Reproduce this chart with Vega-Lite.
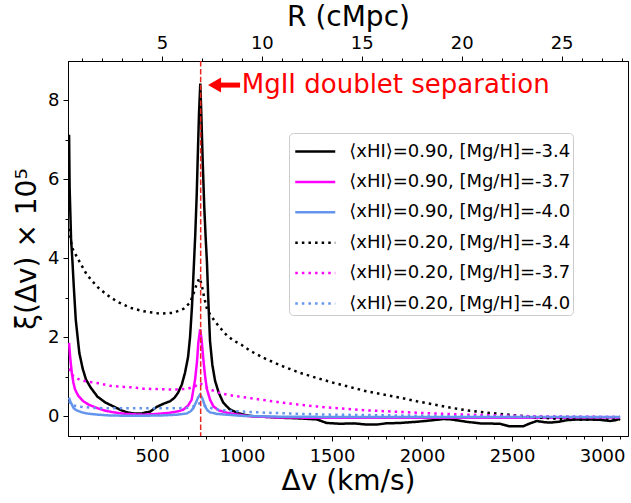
{
  "$schema": "https://vega.github.io/schema/vega-lite/v6.json",
  "width": 560,
  "height": 375,
  "autosize": {"type": "none"},
  "padding": {"left": 68, "top": 61, "right": 3, "bottom": 67},
  "config": {
    "font": "DejaVu Sans",
    "view": {"stroke": "black", "strokeWidth": 1},
    "axis": {
      "domainColor": "black",
      "tickColor": "black",
      "labelColor": "black",
      "titleColor": "black",
      "labelFont": "DejaVu Sans",
      "titleFont": "DejaVu Sans",
      "labelFontSize": 18,
      "titleFontSize": 28,
      "titleFontWeight": "normal",
      "grid": false,
      "tickWidth": 1,
      "domainWidth": 1,
      "labelFlush": false
    }
  },
  "datasets": {
    "curves": [
      {"s": "⟨xHI⟩=0.90, [Mg/H]=-3.4", "dv": 39, "xi": 7.13},
      {"s": "⟨xHI⟩=0.90, [Mg/H]=-3.4", "dv": 42, "xi": 5.8},
      {"s": "⟨xHI⟩=0.90, [Mg/H]=-3.4", "dv": 50, "xi": 4.5},
      {"s": "⟨xHI⟩=0.90, [Mg/H]=-3.4", "dv": 58, "xi": 3.9},
      {"s": "⟨xHI⟩=0.90, [Mg/H]=-3.4", "dv": 65, "xi": 3.3},
      {"s": "⟨xHI⟩=0.90, [Mg/H]=-3.4", "dv": 76, "xi": 2.45},
      {"s": "⟨xHI⟩=0.90, [Mg/H]=-3.4", "dv": 96, "xi": 1.6},
      {"s": "⟨xHI⟩=0.90, [Mg/H]=-3.4", "dv": 115, "xi": 1.2},
      {"s": "⟨xHI⟩=0.90, [Mg/H]=-3.4", "dv": 133, "xi": 0.93},
      {"s": "⟨xHI⟩=0.90, [Mg/H]=-3.4", "dv": 160, "xi": 0.72},
      {"s": "⟨xHI⟩=0.90, [Mg/H]=-3.4", "dv": 196, "xi": 0.5},
      {"s": "⟨xHI⟩=0.90, [Mg/H]=-3.4", "dv": 240, "xi": 0.35},
      {"s": "⟨xHI⟩=0.90, [Mg/H]=-3.4", "dv": 285, "xi": 0.25},
      {"s": "⟨xHI⟩=0.90, [Mg/H]=-3.4", "dv": 330, "xi": 0.15},
      {"s": "⟨xHI⟩=0.90, [Mg/H]=-3.4", "dv": 360, "xi": 0.1},
      {"s": "⟨xHI⟩=0.90, [Mg/H]=-3.4", "dv": 400, "xi": 0.07},
      {"s": "⟨xHI⟩=0.90, [Mg/H]=-3.4", "dv": 440, "xi": 0.07},
      {"s": "⟨xHI⟩=0.90, [Mg/H]=-3.4", "dv": 490, "xi": 0.12},
      {"s": "⟨xHI⟩=0.90, [Mg/H]=-3.4", "dv": 527, "xi": 0.24},
      {"s": "⟨xHI⟩=0.90, [Mg/H]=-3.4", "dv": 565, "xi": 0.32},
      {"s": "⟨xHI⟩=0.90, [Mg/H]=-3.4", "dv": 600, "xi": 0.38},
      {"s": "⟨xHI⟩=0.90, [Mg/H]=-3.4", "dv": 625, "xi": 0.47},
      {"s": "⟨xHI⟩=0.90, [Mg/H]=-3.4", "dv": 645, "xi": 0.6},
      {"s": "⟨xHI⟩=0.90, [Mg/H]=-3.4", "dv": 665, "xi": 0.8},
      {"s": "⟨xHI⟩=0.90, [Mg/H]=-3.4", "dv": 683, "xi": 1.1},
      {"s": "⟨xHI⟩=0.90, [Mg/H]=-3.4", "dv": 700, "xi": 1.5},
      {"s": "⟨xHI⟩=0.90, [Mg/H]=-3.4", "dv": 711, "xi": 2.0},
      {"s": "⟨xHI⟩=0.90, [Mg/H]=-3.4", "dv": 722, "xi": 2.8},
      {"s": "⟨xHI⟩=0.90, [Mg/H]=-3.4", "dv": 730, "xi": 3.6},
      {"s": "⟨xHI⟩=0.90, [Mg/H]=-3.4", "dv": 740, "xi": 4.6},
      {"s": "⟨xHI⟩=0.90, [Mg/H]=-3.4", "dv": 748, "xi": 5.6},
      {"s": "⟨xHI⟩=0.90, [Mg/H]=-3.4", "dv": 754, "xi": 6.6},
      {"s": "⟨xHI⟩=0.90, [Mg/H]=-3.4", "dv": 761, "xi": 7.7},
      {"s": "⟨xHI⟩=0.90, [Mg/H]=-3.4", "dv": 768, "xi": 8.43},
      {"s": "⟨xHI⟩=0.90, [Mg/H]=-3.4", "dv": 774, "xi": 7.6},
      {"s": "⟨xHI⟩=0.90, [Mg/H]=-3.4", "dv": 781, "xi": 6.5},
      {"s": "⟨xHI⟩=0.90, [Mg/H]=-3.4", "dv": 790, "xi": 5.3},
      {"s": "⟨xHI⟩=0.90, [Mg/H]=-3.4", "dv": 798, "xi": 4.5},
      {"s": "⟨xHI⟩=0.90, [Mg/H]=-3.4", "dv": 805, "xi": 3.9},
      {"s": "⟨xHI⟩=0.90, [Mg/H]=-3.4", "dv": 812, "xi": 3.0},
      {"s": "⟨xHI⟩=0.90, [Mg/H]=-3.4", "dv": 822, "xi": 1.9},
      {"s": "⟨xHI⟩=0.90, [Mg/H]=-3.4", "dv": 835, "xi": 1.3},
      {"s": "⟨xHI⟩=0.90, [Mg/H]=-3.4", "dv": 850, "xi": 0.9},
      {"s": "⟨xHI⟩=0.90, [Mg/H]=-3.4", "dv": 870, "xi": 0.6},
      {"s": "⟨xHI⟩=0.90, [Mg/H]=-3.4", "dv": 895, "xi": 0.35},
      {"s": "⟨xHI⟩=0.90, [Mg/H]=-3.4", "dv": 930, "xi": 0.18},
      {"s": "⟨xHI⟩=0.90, [Mg/H]=-3.4", "dv": 970, "xi": 0.09},
      {"s": "⟨xHI⟩=0.90, [Mg/H]=-3.4", "dv": 1020, "xi": 0.03},
      {"s": "⟨xHI⟩=0.90, [Mg/H]=-3.4", "dv": 1061, "xi": 0.0},
      {"s": "⟨xHI⟩=0.90, [Mg/H]=-3.4", "dv": 1150, "xi": -0.02},
      {"s": "⟨xHI⟩=0.90, [Mg/H]=-3.4", "dv": 1228, "xi": -0.04},
      {"s": "⟨xHI⟩=0.90, [Mg/H]=-3.4", "dv": 1300, "xi": -0.05},
      {"s": "⟨xHI⟩=0.90, [Mg/H]=-3.4", "dv": 1415, "xi": -0.08},
      {"s": "⟨xHI⟩=0.90, [Mg/H]=-3.4", "dv": 1470, "xi": -0.17},
      {"s": "⟨xHI⟩=0.90, [Mg/H]=-3.4", "dv": 1544, "xi": -0.19},
      {"s": "⟨xHI⟩=0.90, [Mg/H]=-3.4", "dv": 1620, "xi": -0.18},
      {"s": "⟨xHI⟩=0.90, [Mg/H]=-3.4", "dv": 1693, "xi": -0.21},
      {"s": "⟨xHI⟩=0.90, [Mg/H]=-3.4", "dv": 1748, "xi": -0.21},
      {"s": "⟨xHI⟩=0.90, [Mg/H]=-3.4", "dv": 1800, "xi": -0.18},
      {"s": "⟨xHI⟩=0.90, [Mg/H]=-3.4", "dv": 1878, "xi": -0.17},
      {"s": "⟨xHI⟩=0.90, [Mg/H]=-3.4", "dv": 1970, "xi": -0.14},
      {"s": "⟨xHI⟩=0.90, [Mg/H]=-3.4", "dv": 2061, "xi": -0.1},
      {"s": "⟨xHI⟩=0.90, [Mg/H]=-3.4", "dv": 2118, "xi": -0.07},
      {"s": "⟨xHI⟩=0.90, [Mg/H]=-3.4", "dv": 2160, "xi": -0.08},
      {"s": "⟨xHI⟩=0.90, [Mg/H]=-3.4", "dv": 2248, "xi": -0.14},
      {"s": "⟨xHI⟩=0.90, [Mg/H]=-3.4", "dv": 2322, "xi": -0.18},
      {"s": "⟨xHI⟩=0.90, [Mg/H]=-3.4", "dv": 2433, "xi": -0.19},
      {"s": "⟨xHI⟩=0.90, [Mg/H]=-3.4", "dv": 2480, "xi": -0.25},
      {"s": "⟨xHI⟩=0.90, [Mg/H]=-3.4", "dv": 2563, "xi": -0.25},
      {"s": "⟨xHI⟩=0.90, [Mg/H]=-3.4", "dv": 2600, "xi": -0.18},
      {"s": "⟨xHI⟩=0.90, [Mg/H]=-3.4", "dv": 2637, "xi": -0.12},
      {"s": "⟨xHI⟩=0.90, [Mg/H]=-3.4", "dv": 2680, "xi": -0.15},
      {"s": "⟨xHI⟩=0.90, [Mg/H]=-3.4", "dv": 2711, "xi": -0.16},
      {"s": "⟨xHI⟩=0.90, [Mg/H]=-3.4", "dv": 2760, "xi": -0.14},
      {"s": "⟨xHI⟩=0.90, [Mg/H]=-3.4", "dv": 2804, "xi": -0.1},
      {"s": "⟨xHI⟩=0.90, [Mg/H]=-3.4", "dv": 2860, "xi": -0.08},
      {"s": "⟨xHI⟩=0.90, [Mg/H]=-3.4", "dv": 2933, "xi": -0.08},
      {"s": "⟨xHI⟩=0.90, [Mg/H]=-3.4", "dv": 2990, "xi": -0.09},
      {"s": "⟨xHI⟩=0.90, [Mg/H]=-3.4", "dv": 3044, "xi": -0.12},
      {"s": "⟨xHI⟩=0.90, [Mg/H]=-3.4", "dv": 3075, "xi": -0.1},
      {"s": "⟨xHI⟩=0.90, [Mg/H]=-3.4", "dv": 3100, "xi": -0.06},

      {"s": "⟨xHI⟩=0.90, [Mg/H]=-3.7", "dv": 39, "xi": 1.86},
      {"s": "⟨xHI⟩=0.90, [Mg/H]=-3.7", "dv": 45, "xi": 1.5},
      {"s": "⟨xHI⟩=0.90, [Mg/H]=-3.7", "dv": 54, "xi": 1.1},
      {"s": "⟨xHI⟩=0.90, [Mg/H]=-3.7", "dv": 63, "xi": 0.85},
      {"s": "⟨xHI⟩=0.90, [Mg/H]=-3.7", "dv": 72, "xi": 0.68},
      {"s": "⟨xHI⟩=0.90, [Mg/H]=-3.7", "dv": 90, "xi": 0.52},
      {"s": "⟨xHI⟩=0.90, [Mg/H]=-3.7", "dv": 118, "xi": 0.38},
      {"s": "⟨xHI⟩=0.90, [Mg/H]=-3.7", "dv": 150, "xi": 0.29},
      {"s": "⟨xHI⟩=0.90, [Mg/H]=-3.7", "dv": 193, "xi": 0.21},
      {"s": "⟨xHI⟩=0.90, [Mg/H]=-3.7", "dv": 240, "xi": 0.14},
      {"s": "⟨xHI⟩=0.90, [Mg/H]=-3.7", "dv": 285, "xi": 0.1},
      {"s": "⟨xHI⟩=0.90, [Mg/H]=-3.7", "dv": 350, "xi": 0.06},
      {"s": "⟨xHI⟩=0.90, [Mg/H]=-3.7", "dv": 452, "xi": 0.04},
      {"s": "⟨xHI⟩=0.90, [Mg/H]=-3.7", "dv": 530, "xi": 0.06},
      {"s": "⟨xHI⟩=0.90, [Mg/H]=-3.7", "dv": 600, "xi": 0.09},
      {"s": "⟨xHI⟩=0.90, [Mg/H]=-3.7", "dv": 650, "xi": 0.13},
      {"s": "⟨xHI⟩=0.90, [Mg/H]=-3.7", "dv": 674, "xi": 0.17},
      {"s": "⟨xHI⟩=0.90, [Mg/H]=-3.7", "dv": 700, "xi": 0.27},
      {"s": "⟨xHI⟩=0.90, [Mg/H]=-3.7", "dv": 720, "xi": 0.42},
      {"s": "⟨xHI⟩=0.90, [Mg/H]=-3.7", "dv": 739, "xi": 0.93},
      {"s": "⟨xHI⟩=0.90, [Mg/H]=-3.7", "dv": 750, "xi": 1.4},
      {"s": "⟨xHI⟩=0.90, [Mg/H]=-3.7", "dv": 757, "xi": 1.86},
      {"s": "⟨xHI⟩=0.90, [Mg/H]=-3.7", "dv": 767, "xi": 2.2},
      {"s": "⟨xHI⟩=0.90, [Mg/H]=-3.7", "dv": 775, "xi": 1.95},
      {"s": "⟨xHI⟩=0.90, [Mg/H]=-3.7", "dv": 785, "xi": 1.44},
      {"s": "⟨xHI⟩=0.90, [Mg/H]=-3.7", "dv": 795, "xi": 1.0},
      {"s": "⟨xHI⟩=0.90, [Mg/H]=-3.7", "dv": 804, "xi": 0.7},
      {"s": "⟨xHI⟩=0.90, [Mg/H]=-3.7", "dv": 822, "xi": 0.42},
      {"s": "⟨xHI⟩=0.90, [Mg/H]=-3.7", "dv": 841, "xi": 0.25},
      {"s": "⟨xHI⟩=0.90, [Mg/H]=-3.7", "dv": 870, "xi": 0.15},
      {"s": "⟨xHI⟩=0.90, [Mg/H]=-3.7", "dv": 915, "xi": 0.09},
      {"s": "⟨xHI⟩=0.90, [Mg/H]=-3.7", "dv": 980, "xi": 0.04},
      {"s": "⟨xHI⟩=0.90, [Mg/H]=-3.7", "dv": 1044, "xi": 0.0},
      {"s": "⟨xHI⟩=0.90, [Mg/H]=-3.7", "dv": 1200, "xi": -0.03},
      {"s": "⟨xHI⟩=0.90, [Mg/H]=-3.7", "dv": 1500, "xi": -0.04},
      {"s": "⟨xHI⟩=0.90, [Mg/H]=-3.7", "dv": 2000, "xi": -0.04},
      {"s": "⟨xHI⟩=0.90, [Mg/H]=-3.7", "dv": 2500, "xi": -0.04},
      {"s": "⟨xHI⟩=0.90, [Mg/H]=-3.7", "dv": 3100, "xi": -0.03},

      {"s": "⟨xHI⟩=0.90, [Mg/H]=-4.0", "dv": 39, "xi": 0.47},
      {"s": "⟨xHI⟩=0.90, [Mg/H]=-4.0", "dv": 45, "xi": 0.38},
      {"s": "⟨xHI⟩=0.90, [Mg/H]=-4.0", "dv": 54, "xi": 0.3},
      {"s": "⟨xHI⟩=0.90, [Mg/H]=-4.0", "dv": 65, "xi": 0.2},
      {"s": "⟨xHI⟩=0.90, [Mg/H]=-4.0", "dv": 81, "xi": 0.15},
      {"s": "⟨xHI⟩=0.90, [Mg/H]=-4.0", "dv": 110, "xi": 0.1},
      {"s": "⟨xHI⟩=0.90, [Mg/H]=-4.0", "dv": 137, "xi": 0.07},
      {"s": "⟨xHI⟩=0.90, [Mg/H]=-4.0", "dv": 200, "xi": 0.04},
      {"s": "⟨xHI⟩=0.90, [Mg/H]=-4.0", "dv": 267, "xi": 0.02},
      {"s": "⟨xHI⟩=0.90, [Mg/H]=-4.0", "dv": 400, "xi": 0.01},
      {"s": "⟨xHI⟩=0.90, [Mg/H]=-4.0", "dv": 550, "xi": 0.02},
      {"s": "⟨xHI⟩=0.90, [Mg/H]=-4.0", "dv": 640, "xi": 0.04},
      {"s": "⟨xHI⟩=0.90, [Mg/H]=-4.0", "dv": 693, "xi": 0.07},
      {"s": "⟨xHI⟩=0.90, [Mg/H]=-4.0", "dv": 715, "xi": 0.13},
      {"s": "⟨xHI⟩=0.90, [Mg/H]=-4.0", "dv": 730, "xi": 0.21},
      {"s": "⟨xHI⟩=0.90, [Mg/H]=-4.0", "dv": 745, "xi": 0.36},
      {"s": "⟨xHI⟩=0.90, [Mg/H]=-4.0", "dv": 755, "xi": 0.47},
      {"s": "⟨xHI⟩=0.90, [Mg/H]=-4.0", "dv": 767, "xi": 0.55},
      {"s": "⟨xHI⟩=0.90, [Mg/H]=-4.0", "dv": 780, "xi": 0.45},
      {"s": "⟨xHI⟩=0.90, [Mg/H]=-4.0", "dv": 794, "xi": 0.25},
      {"s": "⟨xHI⟩=0.90, [Mg/H]=-4.0", "dv": 808, "xi": 0.15},
      {"s": "⟨xHI⟩=0.90, [Mg/H]=-4.0", "dv": 822, "xi": 0.1},
      {"s": "⟨xHI⟩=0.90, [Mg/H]=-4.0", "dv": 860, "xi": 0.06},
      {"s": "⟨xHI⟩=0.90, [Mg/H]=-4.0", "dv": 915, "xi": 0.04},
      {"s": "⟨xHI⟩=0.90, [Mg/H]=-4.0", "dv": 1000, "xi": 0.01},
      {"s": "⟨xHI⟩=0.90, [Mg/H]=-4.0", "dv": 1200, "xi": -0.01},
      {"s": "⟨xHI⟩=0.90, [Mg/H]=-4.0", "dv": 1600, "xi": -0.02},
      {"s": "⟨xHI⟩=0.90, [Mg/H]=-4.0", "dv": 2200, "xi": -0.02},
      {"s": "⟨xHI⟩=0.90, [Mg/H]=-4.0", "dv": 3100, "xi": -0.02},

      {"s": "⟨xHI⟩=0.20, [Mg/H]=-3.4", "dv": 39, "xi": 4.75},
      {"s": "⟨xHI⟩=0.20, [Mg/H]=-3.4", "dv": 54, "xi": 4.3},
      {"s": "⟨xHI⟩=0.20, [Mg/H]=-3.4", "dv": 63, "xi": 4.2},
      {"s": "⟨xHI⟩=0.20, [Mg/H]=-3.4", "dv": 100, "xi": 3.89},
      {"s": "⟨xHI⟩=0.20, [Mg/H]=-3.4", "dv": 137, "xi": 3.59},
      {"s": "⟨xHI⟩=0.20, [Mg/H]=-3.4", "dv": 193, "xi": 3.29},
      {"s": "⟨xHI⟩=0.20, [Mg/H]=-3.4", "dv": 248, "xi": 3.08},
      {"s": "⟨xHI⟩=0.20, [Mg/H]=-3.4", "dv": 304, "xi": 2.91},
      {"s": "⟨xHI⟩=0.20, [Mg/H]=-3.4", "dv": 378, "xi": 2.75},
      {"s": "⟨xHI⟩=0.20, [Mg/H]=-3.4", "dv": 452, "xi": 2.66},
      {"s": "⟨xHI⟩=0.20, [Mg/H]=-3.4", "dv": 544, "xi": 2.6},
      {"s": "⟨xHI⟩=0.20, [Mg/H]=-3.4", "dv": 618, "xi": 2.62},
      {"s": "⟨xHI⟩=0.20, [Mg/H]=-3.4", "dv": 674, "xi": 2.72},
      {"s": "⟨xHI⟩=0.20, [Mg/H]=-3.4", "dv": 711, "xi": 2.88},
      {"s": "⟨xHI⟩=0.20, [Mg/H]=-3.4", "dv": 730, "xi": 3.1},
      {"s": "⟨xHI⟩=0.20, [Mg/H]=-3.4", "dv": 748, "xi": 3.35},
      {"s": "⟨xHI⟩=0.20, [Mg/H]=-3.4", "dv": 763, "xi": 3.5},
      {"s": "⟨xHI⟩=0.20, [Mg/H]=-3.4", "dv": 775, "xi": 3.35},
      {"s": "⟨xHI⟩=0.20, [Mg/H]=-3.4", "dv": 790, "xi": 3.0},
      {"s": "⟨xHI⟩=0.20, [Mg/H]=-3.4", "dv": 805, "xi": 2.72},
      {"s": "⟨xHI⟩=0.20, [Mg/H]=-3.4", "dv": 822, "xi": 2.58},
      {"s": "⟨xHI⟩=0.20, [Mg/H]=-3.4", "dv": 850, "xi": 2.4},
      {"s": "⟨xHI⟩=0.20, [Mg/H]=-3.4", "dv": 878, "xi": 2.24},
      {"s": "⟨xHI⟩=0.20, [Mg/H]=-3.4", "dv": 915, "xi": 2.05},
      {"s": "⟨xHI⟩=0.20, [Mg/H]=-3.4", "dv": 952, "xi": 1.92},
      {"s": "⟨xHI⟩=0.20, [Mg/H]=-3.4", "dv": 1000, "xi": 1.8},
      {"s": "⟨xHI⟩=0.20, [Mg/H]=-3.4", "dv": 1044, "xi": 1.66},
      {"s": "⟨xHI⟩=0.20, [Mg/H]=-3.4", "dv": 1137, "xi": 1.44},
      {"s": "⟨xHI⟩=0.20, [Mg/H]=-3.4", "dv": 1230, "xi": 1.26},
      {"s": "⟨xHI⟩=0.20, [Mg/H]=-3.4", "dv": 1322, "xi": 1.1},
      {"s": "⟨xHI⟩=0.20, [Mg/H]=-3.4", "dv": 1415, "xi": 0.97},
      {"s": "⟨xHI⟩=0.20, [Mg/H]=-3.4", "dv": 1507, "xi": 0.85},
      {"s": "⟨xHI⟩=0.20, [Mg/H]=-3.4", "dv": 1600, "xi": 0.74},
      {"s": "⟨xHI⟩=0.20, [Mg/H]=-3.4", "dv": 1693, "xi": 0.63},
      {"s": "⟨xHI⟩=0.20, [Mg/H]=-3.4", "dv": 1785, "xi": 0.55},
      {"s": "⟨xHI⟩=0.20, [Mg/H]=-3.4", "dv": 1878, "xi": 0.47},
      {"s": "⟨xHI⟩=0.20, [Mg/H]=-3.4", "dv": 1970, "xi": 0.38},
      {"s": "⟨xHI⟩=0.20, [Mg/H]=-3.4", "dv": 2063, "xi": 0.3},
      {"s": "⟨xHI⟩=0.20, [Mg/H]=-3.4", "dv": 2155, "xi": 0.22},
      {"s": "⟨xHI⟩=0.20, [Mg/H]=-3.4", "dv": 2248, "xi": 0.15},
      {"s": "⟨xHI⟩=0.20, [Mg/H]=-3.4", "dv": 2340, "xi": 0.1},
      {"s": "⟨xHI⟩=0.20, [Mg/H]=-3.4", "dv": 2433, "xi": 0.06},
      {"s": "⟨xHI⟩=0.20, [Mg/H]=-3.4", "dv": 2526, "xi": 0.02},
      {"s": "⟨xHI⟩=0.20, [Mg/H]=-3.4", "dv": 2619, "xi": -0.02},
      {"s": "⟨xHI⟩=0.20, [Mg/H]=-3.4", "dv": 2710, "xi": -0.05},
      {"s": "⟨xHI⟩=0.20, [Mg/H]=-3.4", "dv": 2804, "xi": -0.08},
      {"s": "⟨xHI⟩=0.20, [Mg/H]=-3.4", "dv": 2900, "xi": -0.09},
      {"s": "⟨xHI⟩=0.20, [Mg/H]=-3.4", "dv": 3000, "xi": -0.09},
      {"s": "⟨xHI⟩=0.20, [Mg/H]=-3.4", "dv": 3100, "xi": -0.08},

      {"s": "⟨xHI⟩=0.20, [Mg/H]=-3.7", "dv": 39, "xi": 1.2},
      {"s": "⟨xHI⟩=0.20, [Mg/H]=-3.7", "dv": 44, "xi": 1.18},
      {"s": "⟨xHI⟩=0.20, [Mg/H]=-3.7", "dv": 63, "xi": 1.01},
      {"s": "⟨xHI⟩=0.20, [Mg/H]=-3.7", "dv": 100, "xi": 0.92},
      {"s": "⟨xHI⟩=0.20, [Mg/H]=-3.7", "dv": 137, "xi": 0.88},
      {"s": "⟨xHI⟩=0.20, [Mg/H]=-3.7", "dv": 211, "xi": 0.83},
      {"s": "⟨xHI⟩=0.20, [Mg/H]=-3.7", "dv": 267, "xi": 0.77},
      {"s": "⟨xHI⟩=0.20, [Mg/H]=-3.7", "dv": 396, "xi": 0.73},
      {"s": "⟨xHI⟩=0.20, [Mg/H]=-3.7", "dv": 452, "xi": 0.7},
      {"s": "⟨xHI⟩=0.20, [Mg/H]=-3.7", "dv": 581, "xi": 0.68},
      {"s": "⟨xHI⟩=0.20, [Mg/H]=-3.7", "dv": 637, "xi": 0.68},
      {"s": "⟨xHI⟩=0.20, [Mg/H]=-3.7", "dv": 700, "xi": 0.7},
      {"s": "⟨xHI⟩=0.20, [Mg/H]=-3.7", "dv": 739, "xi": 0.76},
      {"s": "⟨xHI⟩=0.20, [Mg/H]=-3.7", "dv": 767, "xi": 0.84},
      {"s": "⟨xHI⟩=0.20, [Mg/H]=-3.7", "dv": 795, "xi": 0.75},
      {"s": "⟨xHI⟩=0.20, [Mg/H]=-3.7", "dv": 822, "xi": 0.68},
      {"s": "⟨xHI⟩=0.20, [Mg/H]=-3.7", "dv": 868, "xi": 0.6},
      {"s": "⟨xHI⟩=0.20, [Mg/H]=-3.7", "dv": 915, "xi": 0.55},
      {"s": "⟨xHI⟩=0.20, [Mg/H]=-3.7", "dv": 952, "xi": 0.52},
      {"s": "⟨xHI⟩=0.20, [Mg/H]=-3.7", "dv": 1044, "xi": 0.46},
      {"s": "⟨xHI⟩=0.20, [Mg/H]=-3.7", "dv": 1137, "xi": 0.4},
      {"s": "⟨xHI⟩=0.20, [Mg/H]=-3.7", "dv": 1230, "xi": 0.34},
      {"s": "⟨xHI⟩=0.20, [Mg/H]=-3.7", "dv": 1322, "xi": 0.29},
      {"s": "⟨xHI⟩=0.20, [Mg/H]=-3.7", "dv": 1415, "xi": 0.25},
      {"s": "⟨xHI⟩=0.20, [Mg/H]=-3.7", "dv": 1507, "xi": 0.21},
      {"s": "⟨xHI⟩=0.20, [Mg/H]=-3.7", "dv": 1693, "xi": 0.15},
      {"s": "⟨xHI⟩=0.20, [Mg/H]=-3.7", "dv": 1878, "xi": 0.11},
      {"s": "⟨xHI⟩=0.20, [Mg/H]=-3.7", "dv": 2063, "xi": 0.07},
      {"s": "⟨xHI⟩=0.20, [Mg/H]=-3.7", "dv": 2248, "xi": 0.04},
      {"s": "⟨xHI⟩=0.20, [Mg/H]=-3.7", "dv": 2433, "xi": 0.02},
      {"s": "⟨xHI⟩=0.20, [Mg/H]=-3.7", "dv": 2619, "xi": 0.0},
      {"s": "⟨xHI⟩=0.20, [Mg/H]=-3.7", "dv": 2800, "xi": -0.01},
      {"s": "⟨xHI⟩=0.20, [Mg/H]=-3.7", "dv": 3100, "xi": -0.02},

      {"s": "⟨xHI⟩=0.20, [Mg/H]=-4.0", "dv": 39, "xi": 0.38},
      {"s": "⟨xHI⟩=0.20, [Mg/H]=-4.0", "dv": 50, "xi": 0.3},
      {"s": "⟨xHI⟩=0.20, [Mg/H]=-4.0", "dv": 81, "xi": 0.25},
      {"s": "⟨xHI⟩=0.20, [Mg/H]=-4.0", "dv": 174, "xi": 0.21},
      {"s": "⟨xHI⟩=0.20, [Mg/H]=-4.0", "dv": 300, "xi": 0.2},
      {"s": "⟨xHI⟩=0.20, [Mg/H]=-4.0", "dv": 450, "xi": 0.2},
      {"s": "⟨xHI⟩=0.20, [Mg/H]=-4.0", "dv": 600, "xi": 0.2},
      {"s": "⟨xHI⟩=0.20, [Mg/H]=-4.0", "dv": 693, "xi": 0.21},
      {"s": "⟨xHI⟩=0.20, [Mg/H]=-4.0", "dv": 730, "xi": 0.25},
      {"s": "⟨xHI⟩=0.20, [Mg/H]=-4.0", "dv": 748, "xi": 0.3},
      {"s": "⟨xHI⟩=0.20, [Mg/H]=-4.0", "dv": 767, "xi": 0.33},
      {"s": "⟨xHI⟩=0.20, [Mg/H]=-4.0", "dv": 785, "xi": 0.28},
      {"s": "⟨xHI⟩=0.20, [Mg/H]=-4.0", "dv": 804, "xi": 0.24},
      {"s": "⟨xHI⟩=0.20, [Mg/H]=-4.0", "dv": 850, "xi": 0.18},
      {"s": "⟨xHI⟩=0.20, [Mg/H]=-4.0", "dv": 915, "xi": 0.14},
      {"s": "⟨xHI⟩=0.20, [Mg/H]=-4.0", "dv": 1000, "xi": 0.12},
      {"s": "⟨xHI⟩=0.20, [Mg/H]=-4.0", "dv": 1137, "xi": 0.09},
      {"s": "⟨xHI⟩=0.20, [Mg/H]=-4.0", "dv": 1322, "xi": 0.06},
      {"s": "⟨xHI⟩=0.20, [Mg/H]=-4.0", "dv": 1507, "xi": 0.04},
      {"s": "⟨xHI⟩=0.20, [Mg/H]=-4.0", "dv": 1700, "xi": 0.03},
      {"s": "⟨xHI⟩=0.20, [Mg/H]=-4.0", "dv": 1878, "xi": 0.02},
      {"s": "⟨xHI⟩=0.20, [Mg/H]=-4.0", "dv": 2200, "xi": 0.0},
      {"s": "⟨xHI⟩=0.20, [Mg/H]=-4.0", "dv": 2600, "xi": -0.01},
      {"s": "⟨xHI⟩=0.20, [Mg/H]=-4.0", "dv": 3100, "xi": -0.02}
    ],
    "arrow": [{"tip": 811, "shaft_from": 866, "tail": 989, "y": 8.39}],
    "note": [{"dv": 998, "y": 8.19, "text": "MgII doublet separation"}],
    "doublet": [{"R_cMpc": 6.937}]
  },
  "layer": [
    {
      "layer": [
        {
          "data": {"name": "curves"},
          "mark": {"type": "line", "strokeWidth": 2.5, "clip": true},
          "encoding": {
            "x": {
              "field": "dv",
              "type": "quantitative",
              "scale": {"domain": [33, 3144], "nice": false, "zero": false},
              "axis": {
                "orient": "bottom",
                "title": "Δv (km/s)",
                "values": [500, 1000, 1500, 2000, 2500, 3000],
                "format": "d",
                "labelOverlap": false,
                "tickSize": 5,
                "labelBaseline": "alphabetic",
                "labelPadding": 20,
                "titleX": 280,
                "titleY": 53,
                "titleBaseline": "alphabetic"
              }
            },
            "y": {
              "field": "xi",
              "type": "quantitative",
              "scale": {"domain": [-0.5, 9], "nice": false, "zero": false},
              "axis": {
                "title": "ξ(Δv) × 10⁵",
                "values": [0, 0.5, 1, 1.5, 2, 2.5, 3, 3.5, 4, 4.5, 5, 5.5, 6, 6.5, 7, 7.5, 8, 8.5],
                "labelExpr": "datum.value % 2 === 0 ? datum.label : ''",
                "labelOverlap": false,
                "tickSize": {"condition": {"test": "datum.value % 2 === 0", "value": 5}, "value": 3},
                "labelPadding": 4,
                "titleX": -33,
                "titleY": 187.5,
                "titleAngle": -90,
                "titleBaseline": "alphabetic",
                "titleAlign": "center"
              }
            },
            "color": {
              "field": "s",
              "type": "nominal",
              "scale": {
                "domain": ["⟨xHI⟩=0.90, [Mg/H]=-3.4", "⟨xHI⟩=0.90, [Mg/H]=-3.7", "⟨xHI⟩=0.90, [Mg/H]=-4.0", "⟨xHI⟩=0.20, [Mg/H]=-3.4", "⟨xHI⟩=0.20, [Mg/H]=-3.7", "⟨xHI⟩=0.20, [Mg/H]=-4.0"],
                "range": ["#000000", "#ff00ff", "#6495ed", "#000000", "#ff00ff", "#6495ed"]
              },
              "legend": {
                "title": null,
                "orient": "none",
                "legendX": 221,
                "legendY": 72,
                "labelFont": "DejaVu Sans",
                "labelFontSize": 18,
                "labelColor": "black",
                "labelLimit": 400,
                "symbolType": "M-1.333,0L1.333,0",
                "symbolSize": 900,
                "symbolStrokeWidth": 2.5,
                "padding": 2,
                "rowPadding": 4.4,
                "symbolOffset": 7.75,
                "labelOffset": 17.5,
                "fillColor": "rgba(255,255,255,0.8)",
                "strokeColor": "#cccccc",
                "cornerRadius": 4
              }
            },
            "strokeDash": {
              "field": "s",
              "type": "nominal",
              "scale": {
                "domain": ["⟨xHI⟩=0.90, [Mg/H]=-3.4", "⟨xHI⟩=0.90, [Mg/H]=-3.7", "⟨xHI⟩=0.90, [Mg/H]=-4.0", "⟨xHI⟩=0.20, [Mg/H]=-3.4", "⟨xHI⟩=0.20, [Mg/H]=-3.7", "⟨xHI⟩=0.20, [Mg/H]=-4.0"],
                "range": [[1, 0], [1, 0], [1, 0], [2.5, 4.1], [2.5, 4.1], [2.5, 4.1]]
              },
              "legend": {
                "title": null,
                "orient": "none",
                "legendX": 221,
                "legendY": 72,
                "labelFont": "DejaVu Sans",
                "labelFontSize": 18,
                "labelColor": "black",
                "labelLimit": 400,
                "symbolType": "M-1.333,0L1.333,0",
                "symbolSize": 900,
                "symbolStrokeWidth": 2.5,
                "padding": 2,
                "rowPadding": 4.4,
                "symbolOffset": 7.75,
                "labelOffset": 17.5,
                "fillColor": "rgba(255,255,255,0.8)",
                "strokeColor": "#cccccc",
                "cornerRadius": 4
              }
            }
          }
        },
        {
          "data": {"name": "arrow"},
          "mark": {"type": "rule", "color": "#ff0000", "strokeWidth": 5},
          "encoding": {
            "x": {
              "field": "shaft_from",
              "type": "quantitative",
              "axis": {
                "orient": "bottom",
                "title": null,
                "values": [100, 200, 300, 400, 600, 700, 800, 900, 1100, 1200, 1300, 1400, 1600, 1700, 1800, 1900, 2100, 2200, 2300, 2400, 2600, 2700, 2800, 2900, 3100],
                "labels": false,
                "domain": false,
                "tickSize": 3
              }
            },
            "x2": {"field": "tail"},
            "y": {"field": "y", "type": "quantitative"}
          }
        },
        {
          "data": {"name": "arrow"},
          "mark": {"type": "point", "shape": "M0,0L1.733,-1L1.733,1Z", "filled": true, "size": 225, "color": "#ff0000", "opacity": 1, "strokeWidth": 0},
          "encoding": {
            "x": {"field": "tip", "type": "quantitative", "axis": null},
            "y": {"field": "y", "type": "quantitative"}
          }
        },
        {
          "data": {"name": "note"},
          "mark": {"type": "text", "color": "#ff0000", "font": "DejaVu Sans", "fontSize": 26, "align": "left", "baseline": "alphabetic"},
          "encoding": {
            "x": {"field": "dv", "type": "quantitative", "axis": null},
            "y": {"field": "y", "type": "quantitative"},
            "text": {"field": "text"}
          }
        }
      ],
      "resolve": {"axis": {"x": "independent"}}
    },
    {
      "data": {"name": "doublet"},
      "mark": {"type": "rule", "color": "#e8251f", "strokeWidth": 1.5, "strokeDash": [5.5, 2.4]},
      "encoding": {
        "x": {
          "field": "R_cMpc",
          "type": "quantitative",
          "scale": {"domain": [0.2973, 28.324], "nice": false, "zero": false},
          "axis": {
            "orient": "top",
            "title": "R (cMpc)",
            "values": [1, 2, 3, 4, 5, 6, 7, 8, 9, 10, 11, 12, 13, 14, 15, 16, 17, 18, 19, 20, 21, 22, 23, 24, 25, 26, 27, 28],
            "labelExpr": "datum.value % 5 === 0 ? datum.label : ''",
            "labelOverlap": false,
            "tickSize": {"condition": {"test": "datum.value % 5 === 0", "value": 5}, "value": 3},
            "labelBaseline": "alphabetic",
            "labelPadding": 7.5,
            "titleX": 280,
            "titleY": -36,
            "titleBaseline": "alphabetic"
          }
        }
      }
    }
  ],
  "resolve": {"scale": {"x": "independent"}, "axis": {"x": "independent"}}
}
